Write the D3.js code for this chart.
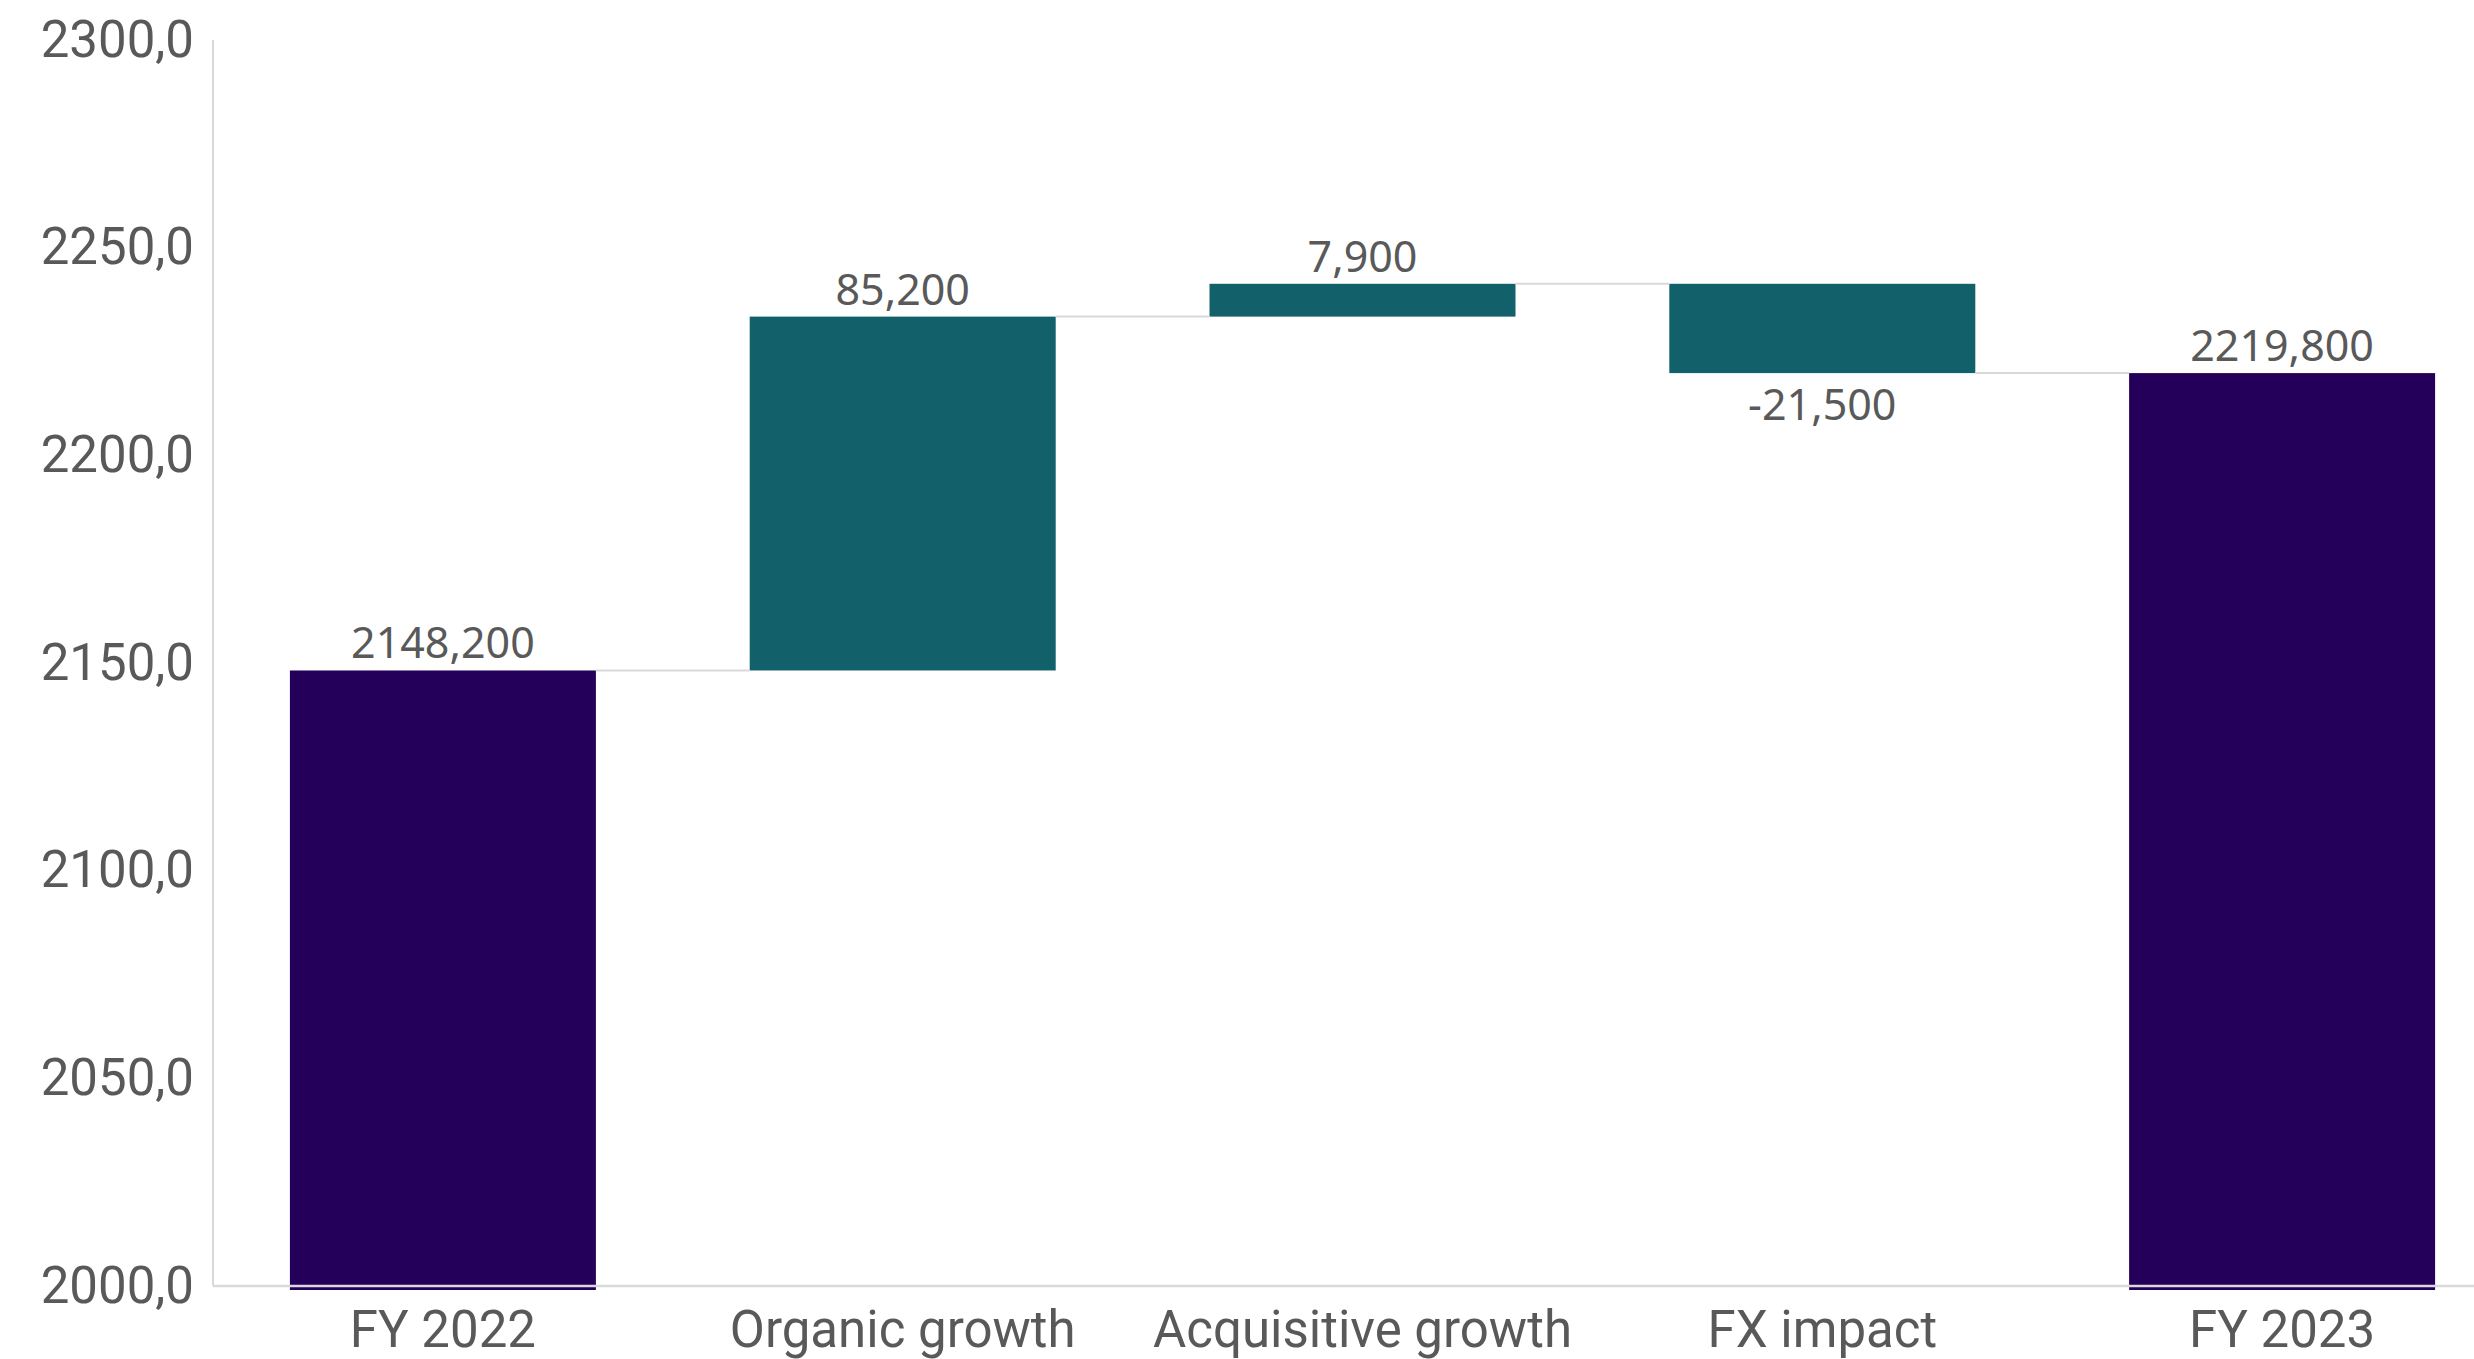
<!DOCTYPE html>
<html>
<head>
<meta charset="utf-8">
<script src="https://cdn.jsdelivr.net/npm/d3@7"></script>
<style>
  html, body { margin: 0; padding: 0; background: #fff; overflow: hidden; }
</style>
</head>
<body>
<div class="main"></div>
<script>
//// Data
const categories = ['FY 2022', 'Organic growth', 'Acquisitive growth', 'FX impact', 'FY 2023'];
const values = [2148.2, 85.2, 7.9, -21.5, 2219.8];
const isTotal = [true, false, false, false, true];
const yTicks = [2000, 2050, 2100, 2150, 2200, 2250, 2300];

//// Globals
const width = 2474;
const height = 1359;
const x0 = 213, x1 = 2512;
const yTop = 40, yBottom = 1286;
const totalColor = '#25005a';
const stepColor = '#11606a';
const textColor = '#595959';
const lineColor = '#d9d9d9';

const locale = d3.formatLocale({ decimal: ',', thousands: '.', grouping: [3], currency: ['', ''], minus: '-' });
const tickFmt = locale.format('.1f');
const labelFmt = locale.format('.3f');

const svg = d3.select('.main').append('svg')
  .attr('width', width)
  .attr('height', height);

const x = d3.scaleBand().domain(categories)
  .range([x0, x1])
  .paddingInner(0.3345)
  .paddingOuter(0.3345 / 2);

const y = d3.scaleLinear().domain([2000, 2300]).range([yBottom, yTop]);

// running totals for the waterfall
let run = 0;
const bars = categories.map((c, i) => {
  let start, end;
  if (isTotal[i]) {
    start = y.domain()[0];
    end = values[i];
    run = values[i];
  } else {
    start = run;
    end = run + values[i];
    run = end;
  }
  return { cat: c, value: values[i], total: isTotal[i], start, end };
});

// bars
svg.append('g')
  .selectAll('rect')
  .data(bars)
  .enter()
  .append('rect')
  .attr('x', d => x(d.cat))
  .attr('width', x.bandwidth())
  .attr('y', d => y(Math.max(d.start, d.end)))
  .attr('height', d => Math.abs(y(d.start) - y(d.end)) + (d.total ? 4 : 0))
  .attr('fill', d => d.total ? totalColor : stepColor);

// connector lines
svg.append('g')
  .selectAll('line')
  .data(bars.slice(0, -1))
  .enter()
  .append('line')
  .attr('x1', d => x(d.cat) + x.bandwidth())
  .attr('x2', (d, i) => x(bars[i + 1].cat))
  .attr('y1', d => y(d.end))
  .attr('y2', d => y(d.end))
  .attr('stroke', lineColor)
  .attr('stroke-width', 2);

// axes lines
svg.append('line')
  .attr('x1', x0).attr('x2', width)
  .attr('y1', yBottom).attr('y2', yBottom)
  .attr('stroke', lineColor).attr('stroke-width', 2.5);
svg.append('line')
  .attr('x1', x0).attr('x2', x0)
  .attr('y1', yTop).attr('y2', yBottom)
  .attr('stroke', lineColor).attr('stroke-width', 2);

// y tick labels
const yAxis = svg.append('g')
  .attr('transform', `translate(${x0},0)`)
  .call(d3.axisLeft(y).tickValues(yTicks).tickFormat(tickFmt).tickSize(0).tickPadding(19));
yAxis.select('.domain').remove();
yAxis.selectAll('text')
  .attr('fill', textColor)
  .style('font-family', 'Roboto, sans-serif')
  .style('font-size', '51px');

// x category labels
const xAxis = svg.append('g')
  .attr('transform', `translate(0,${yBottom})`)
  .call(d3.axisBottom(x).tickSize(0).tickPadding(0));
xAxis.select('.domain').remove();
xAxis.selectAll('text')
  .attr('dy', null)
  .attr('y', 61)
  .attr('fill', textColor)
  .style('font-family', 'Roboto, sans-serif')
  .style('font-size', '51px');

// value labels
svg.append('g')
  .selectAll('text')
  .data(bars)
  .enter()
  .append('text')
  .attr('x', d => x(d.cat) + x.bandwidth() / 2)
  .attr('y', d => d.value < 0 ? y(d.end) + 47 : y(d.end) - 12)
  .attr('text-anchor', 'middle')
  .attr('fill', textColor)
  .style('font-family', '"Noto Sans", sans-serif')
  .style('font-size', '43px')
  .text(d => labelFmt(d.value));
</script>
</body>
</html>
